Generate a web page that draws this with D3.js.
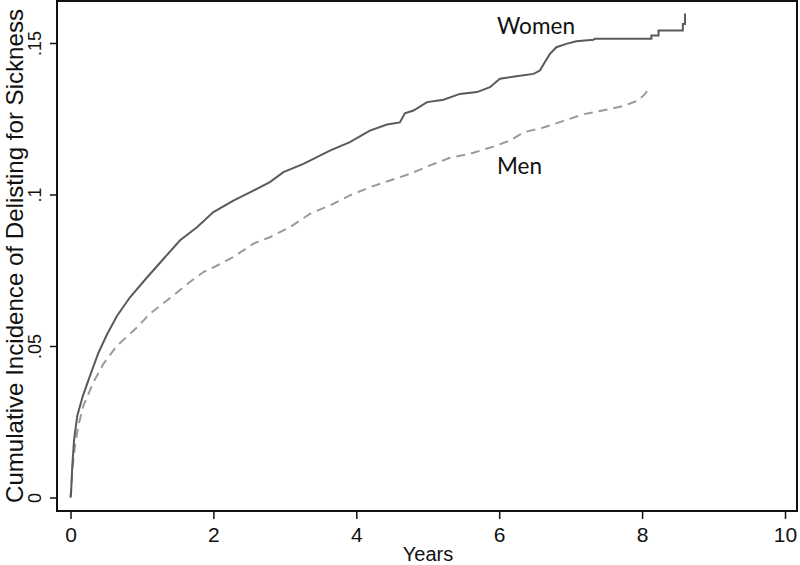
<!DOCTYPE html>
<html><head><meta charset="utf-8">
<script src="https://cdn.jsdelivr.net/npm/d3@7"></script>
<style>html,body{margin:0;padding:0;background:#fff;}svg{display:block;}</style>
</head><body>
<svg id="chart" width="800" height="565"></svg>
<script>
// Years since listing
const womenT = [0,0.007,0.025,0.05,0.095,0.17,0.27,0.39,0.51,0.65,0.83,1.07,1.30,1.53,1.77,2.0,2.28,2.56,2.79,2.98,3.26,3.63,3.91,4.19,4.43,4.61,4.68,4.80,4.99,5.22,5.45,5.69,5.87,6.01,6.24,6.48,6.57,6.64,6.71,6.80,6.94,7.08,7.32,7.34,8.13,8.13,8.23,8.23,8.57,8.57,8.60,8.60];
const womenV = [0,0.001,0.0104,0.019,0.027,0.0333,0.040,0.0477,0.0538,0.0599,0.066,0.0726,0.0787,0.0848,0.0892,0.0942,0.098,0.1013,0.1041,0.1074,0.1101,0.1145,0.1173,0.1211,0.1231,0.1238,0.1268,0.1277,0.1305,0.1313,0.1332,0.1338,0.1354,0.1382,0.139,0.1398,0.1409,0.1437,0.1464,0.1486,0.1497,0.1506,0.1511,0.1514,0.1514,0.1525,0.1525,0.1541,0.1541,0.1563,0.1563,0.1597];
const menT = [0,0.03,0.063,0.11,0.18,0.32,0.46,0.65,0.93,1.11,1.44,1.67,1.86,2.04,2.28,2.56,2.79,3.07,3.35,3.63,3.91,4.19,4.47,4.75,5.03,5.31,5.59,5.82,5.92,6.15,6.34,6.62,6.90,7.18,7.46,7.74,7.93,8.04,8.07];
const menV = [0,0.010,0.0171,0.0237,0.0303,0.038,0.0441,0.0501,0.0561,0.0606,0.0667,0.0711,0.0744,0.0764,0.0794,0.0838,0.0859,0.0892,0.0936,0.0964,0.0997,0.1024,0.1046,0.1068,0.1096,0.1121,0.1134,0.1151,0.1158,0.1178,0.1205,0.1221,0.1243,0.1265,0.1278,0.1292,0.1309,0.1331,0.1342];
const xTicks = [0,2,4,6,8,10];
const yTicks = [0,0.05,0.1,0.15];
const yTickLabels = ["0",".05",".1",".15"];
const seriesNames = ["Women","Men"];
const xTitle = "Years";
const yTitle = "Cumulative Incidence of Delisting for Sickness";

const svg = d3.select("#chart");
const x = d3.scaleLinear().domain([0,10]).range([70.5,785]);
const y = d3.scaleLinear().domain([0,0.15]).range([497.5,43]);
const frame = {l:57, t:1, r:797, b:511};

const tickFont = "'Liberation Sans', Arial, Helvetica, sans-serif";

// frame
svg.append("rect").attr("x",frame.l).attr("y",frame.t)
  .attr("width",frame.r-frame.l).attr("height",frame.b-frame.t)
  .attr("fill","none").attr("stroke","#111").attr("stroke-width",2);

// x axis
const xAxis = svg.append("g").attr("transform",`translate(0,${frame.b})`)
  .call(d3.axisBottom(x).tickValues(xTicks).tickSize(8).tickPadding(6).tickFormat(d3.format("d")));
xAxis.select(".domain").remove();
xAxis.selectAll("line").attr("stroke","#111").attr("stroke-width",1.5);
xAxis.selectAll("text").attr("font-family",tickFont).attr("font-size",21).attr("fill","#111")
  .attr("dy",null).attr("y",30.5);

// y axis
const yAxis = svg.append("g").attr("transform",`translate(${frame.l},0)`)
  .call(d3.axisLeft(y).tickValues(yTicks).tickSize(7).tickFormat((d,i)=>yTickLabels[i]));
yAxis.select(".domain").remove();
yAxis.selectAll("line").attr("stroke","#111").attr("stroke-width",1.5);
yAxis.selectAll("text")
  .attr("font-family",tickFont).attr("font-size",18).attr("fill","#111")
  .attr("x",null).attr("dy",null)
  .attr("text-anchor","middle")
  .attr("transform","translate(-16.5,0) rotate(-90)");

// titles
svg.append("text").attr("x",428).attr("y",560.5).attr("text-anchor","middle")
  .attr("font-family",tickFont).attr("font-size",20).attr("fill","#111").text(xTitle);
svg.append("text").attr("transform","translate(23,256) rotate(-90)").attr("text-anchor","middle")
  .attr("font-family",tickFont).attr("font-size",24).attr("fill","#111")
  .attr("textLength",494).attr("lengthAdjust","spacingAndGlyphs").text(yTitle);

// lines
const women = womenT.map((t,i)=>({t, v:womenV[i]}));
const men = menT.map((t,i)=>({t, v:menV[i]}));
const line = d3.line().x(d=>x(d.t)).y(d=>y(d.v));
svg.append("path").datum(men).attr("d",line).attr("fill","none")
  .attr("stroke","#9a9a9a").attr("stroke-width",2).attr("stroke-dasharray","9,6");
svg.append("path").datum(women).attr("d",line).attr("fill","none")
  .attr("stroke","#5a5a5a").attr("stroke-width",2);

// series labels
const labFont = "Lato, 'Open Sans', sans-serif";
svg.append("text").attr("x",497).attr("y",34).attr("font-family",labFont)
  .attr("font-size",24).attr("fill","#111")
  .attr("textLength",78).attr("lengthAdjust","spacingAndGlyphs").text(seriesNames[0]);
svg.append("text").attr("x",497).attr("y",174).attr("font-family",labFont)
  .attr("font-size",24).attr("fill","#111")
  .attr("textLength",45).attr("lengthAdjust","spacingAndGlyphs").text(seriesNames[1]);
</script>
</body></html>
